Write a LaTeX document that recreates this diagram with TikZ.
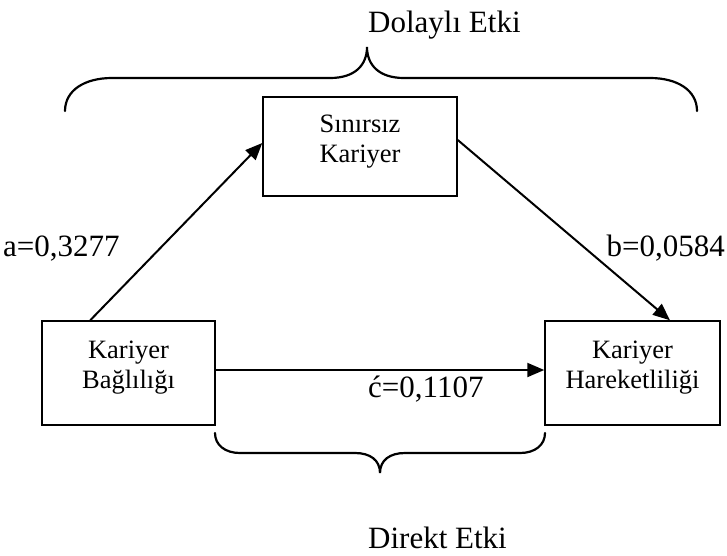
\documentclass[tikz,border=0pt]{standalone}
\usepackage{fontspec}
\setmainfont{Liberation Serif}
\usetikzlibrary{arrows.meta}
\tikzset{
  boxnode/.style={draw, line width=1.5pt, inner sep=0pt},
  boxtext/.style={align=center, font=\fontsize{26.5}{30}\selectfont, inner sep=0pt},
  coef/.style={font=\fontsize{31}{36}\selectfont, inner sep=0pt},
  link/.style={line width=2pt, -{Triangle[length=17pt,width=14pt]}},
  bracepath/.style={line width=2.2pt, line cap=round}
}
\begin{document}
\begin{tikzpicture}[x=1pt,y=-1pt]
\useasboundingbox (0,0) rectangle (727,555);
% boxes
\node[boxnode, minimum width=194pt, minimum height=99pt] (T) at (360,146.5) {};
\node[boxnode, minimum width=173pt, minimum height=104pt] (L) at (128.5,373) {};
\node[boxnode, minimum width=175pt, minimum height=104pt] (R) at (632.5,373) {};
% box texts
\node[boxtext] (Tt) at ([yshift=5pt]T.center) {Sınırsız\\Kariyer};
\node[boxtext] (Lt) at ([yshift=5pt]L.center) {Kariyer\\Bağlılığı};
\node[boxtext] (Rt) at ([yshift=5pt]R.center) {Kariyer\\Hareketliliği};
% connectors
\draw[link] ([xshift=49pt]L.north west) -- ([yshift=3.5pt]T.west);
\draw[link] ([yshift=6.5pt]T.east) -- ([xshift=37.5pt]R.north);
\draw[link] ([yshift=3pt]L.east) -- ([yshift=3pt]R.west);
% coefficient labels
\node[coef, anchor=base west] (la) at (3,256) {a=0,3277};
\node[coef, anchor=base east] (lb) at (725,256) {b=0,0584};
\node[coef, anchor=base west] (lc) at (368,397) {ć=0,1107};
% braces
\draw[bracepath] (65,111) .. controls (65,90) and (85,78) .. (112,78) -- (330,78)
  .. controls (355,78) and (367,65) .. (367,47)
  .. controls (367,65) and (379,78) .. (404,78) -- (650,78)
  .. controls (677,78) and (697,90) .. (697,111);
\draw[bracepath] (215,433) .. controls (215,445) and (225,453) .. (240,453) -- (355,453)
  .. controls (370,453) and (380,460) .. (380,473)
  .. controls (380,460) and (390,453) .. (405,453) -- (520,453)
  .. controls (535,453) and (545,445) .. (545,433);
% brace labels
\node[coef, anchor=base west] (ld) at (368,32) {Dolaylı Etki};
\node[coef, anchor=base west] (le) at (368,548) {Direkt Etki};
\end{tikzpicture}
\end{document}
